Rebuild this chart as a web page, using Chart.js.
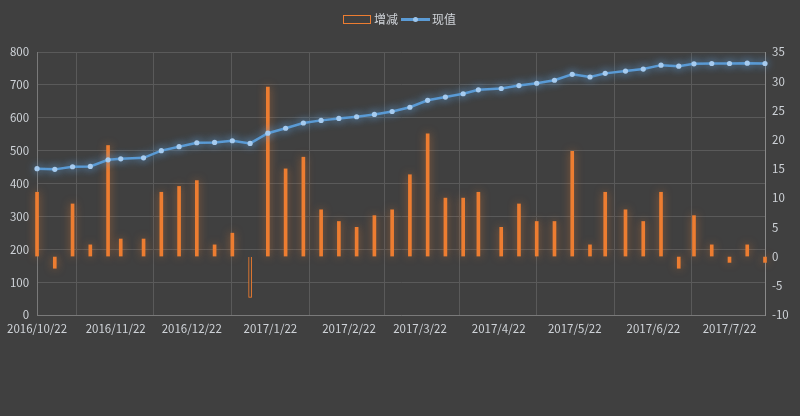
<!DOCTYPE html>
<html><head><meta charset="utf-8">
<script src="https://cdn.jsdelivr.net/npm/chart.js@4/dist/chart.umd.min.js"></script>
<style>
html,body{margin:0;padding:0;background:#404040;}
#wrap{width:800px;height:416px;position:relative;}
</style></head>
<body><div id="wrap"><canvas id="c" width="800" height="416"></canvas></div>
<script>
const dates = ['2016/10/22','2016/10/29','2016/11/5','2016/11/12','2016/11/19','2016/11/24','2016/12/3','2016/12/10','2016/12/17','2016/12/24','2016/12/31','2017/1/7','2017/1/14','2017/1/21','2017/1/28','2017/2/4','2017/2/11','2017/2/18','2017/2/25','2017/3/4','2017/3/11','2017/3/18','2017/3/25','2017/4/1','2017/4/8','2017/4/14','2017/4/23','2017/4/30','2017/5/7','2017/5/14','2017/5/21','2017/5/28','2017/6/3','2017/6/11','2017/6/18','2017/6/25','2017/7/2','2017/7/8','2017/7/15','2017/7/22','2017/7/29','2017/8/5'];
const currentValues = [445,443,451,452,472,475,478,500,512,524,525,530,522,553,568,584,592,598,603,610,619,632,653,663,673,685,689,698,705,714,732,724,735,742,748,760,757,764,765,765,766,765];
const changes = [11,-2,9,2,19,3,3,11,12,13,2,4,-7,29,15,17,8,6,5,7,8,14,21,10,10,11,5,9,6,6,18,2,11,8,6,11,-2,7,2,-1,2,-1];
const tickLabels = ['2016/10/22','2016/11/22','2016/12/22','2017/1/22','2017/2/22','2017/3/22','2017/4/22','2017/5/22','2017/6/22','2017/7/22'];
const seriesNames = ['增减','现值'];

function dayNum(s){const p=s.split('/').map(Number);return Math.round(Date.UTC(p[0],p[1]-1,p[2])/86400000);}
const base = dayNum(dates[0]);
const xs = dates.map(d=>dayNum(d)-base);
const tickDays = tickLabels.map(d=>dayNum(d)-base);
const tickMap = {}; tickDays.forEach((d,i)=>tickMap[d]=tickLabels[i]);

const ORANGE = '#ed7d31';
const BLUE = '#5b9bd5';
const TXT = '#cfd3d8';
const FONT = "'Noto Sans CJK SC','Noto Sans',sans-serif";

const glow = {
  id:'glow',
  beforeDatasetDraw(chart,args){
    const ctx=chart.ctx; ctx.save();
    if(args.index===0){ctx.shadowColor='rgba(237,125,49,0.55)';ctx.shadowBlur=9;}
    else {ctx.shadowColor='rgba(91,155,213,0.9)';ctx.shadowBlur=8;}
  },
  afterDatasetDraw(chart){chart.ctx.restore();}
};

const legendPlugin = {
  id:'customLegend',
  afterDraw(chart){
    const ctx=chart.ctx; ctx.save();
    ctx.font = "12px "+FONT; ctx.textBaseline='middle'; ctx.fillStyle=TXT;
    ctx.strokeStyle=ORANGE; ctx.lineWidth=1;
    ctx.strokeRect(343.5,15.5,27,8);
    ctx.fillText(seriesNames[0],374,19.5);
    ctx.strokeStyle=BLUE; ctx.lineWidth=3;
    ctx.beginPath(); ctx.moveTo(401,19.5); ctx.lineTo(430,19.5); ctx.stroke();
    ctx.fillStyle='#9cc5ec'; ctx.beginPath(); ctx.arc(415.5,19.5,2.5,0,Math.PI*2); ctx.fill();
    ctx.fillStyle=TXT; ctx.fillText(seriesNames[1],432,19.5);
    ctx.restore();
  }
};

new Chart(document.getElementById('c'),{
  data:{
    datasets:[
      {type:'bar',label:seriesNames[0],yAxisID:'y2',
       data:xs.map((x,i)=>({x:x,y:changes[i]})),
       backgroundColor:changes.map((v,i)=>i===12?'#404040':ORANGE),
       borderColor:ORANGE,borderWidth:changes.map((v,i)=>i===12?1:0),
       barThickness:3,clip:false,order:2},
      {type:'line',label:seriesNames[1],yAxisID:'y',
       data:xs.map((x,i)=>({x:x,y:currentValues[i]})),
       borderColor:BLUE,borderWidth:2.5,pointRadius:2.6,pointBackgroundColor:'#a6cbef',
       pointBorderWidth:0,tension:0,clip:false,order:1}
    ]
  },
  options:{
    responsive:false,animation:false,
    layout:{padding:{top:52,left:0,right:0,bottom:0}},
    plugins:{legend:{display:false},tooltip:{enabled:false}},
    scales:{
      x:{type:'linear',min:0,max:xs[xs.length-1],offset:false,
         afterBuildTicks(s){s.ticks=tickDays.map(v=>({value:v}));},
         afterFit(s){s.height=101;},
         ticks:{color:TXT,font:{family:FONT,size:11.5},padding:7,maxRotation:0,autoSkip:false,
                callback:(v)=>tickMap[v]||''},
         grid:{color:'#5a5a5a',drawTicks:false,lineWidth:1},
         border:{color:'#7a7a7a'}},
      y:{position:'left',min:0,max:800,
         afterFit(s){s.width=36;},
         ticks:{stepSize:100,color:TXT,font:{family:FONT,size:11.5},padding:8},
         grid:{color:'#5a5a5a',drawTicks:false},
         border:{color:'#7a7a7a'}},
      y2:{position:'right',min:-10,max:35,
         afterFit(s){s.width=35;},
         ticks:{stepSize:5,color:TXT,font:{family:FONT,size:11.5},padding:7},
         grid:{drawOnChartArea:false,drawTicks:false},
         border:{color:'#8a8a8a'}}
    }
  },
  plugins:[glow,legendPlugin]
});
</script></body></html>
